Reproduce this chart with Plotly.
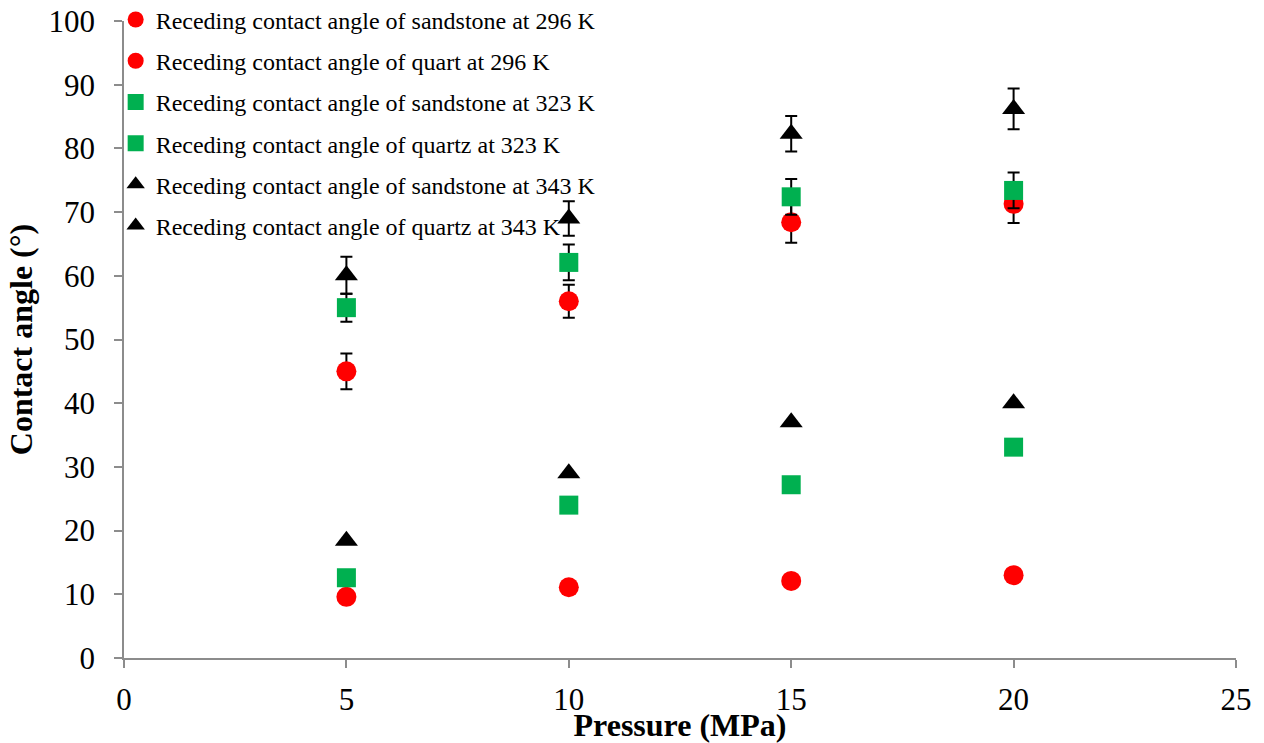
import plotly.graph_objects as go

pressure = [5, 10, 15, 20]

names = [
    "Receding contact angle of sandstone at 296 K",
    "Receding contact angle of quart at 296 K",
    "Receding contact angle of sandstone at 323 K",
    "Receding contact angle of quartz at 323 K",
    "Receding contact angle of sandstone at 343 K",
    "Receding contact angle of quartz at 343 K",
]

sandstone_296 = [45.0, 56.0, 68.4, 71.3]
sandstone_296_err = [2.8, 2.6, 3.2, 3.0]
quartz_296 = [9.6, 11.1, 12.1, 13.0]

sandstone_323 = [55.0, 62.1, 72.4, 73.4]
sandstone_323_err = [2.2, 2.8, 2.8, 2.8]
quartz_323 = [12.6, 24.0, 27.2, 33.1]

sandstone_343 = [60.1, 69.0, 82.3, 86.2]
sandstone_343_err = [2.9, 2.7, 2.8, 3.2]
quartz_343 = [18.4, 29.0, 37.0, 40.0]

RED = "#FF0000"
GREEN = "#00B050"
BLACK = "#000000"
FONT = "Liberation Serif, Times New Roman, serif"

series = [
    (names[0], sandstone_296, sandstone_296_err, "circle", RED, 20),
    (names[1], quartz_296, None, "circle", RED, 20),
    (names[2], sandstone_323, sandstone_323_err, "square", GREEN, 19),
    (names[3], quartz_323, None, "square", GREEN, 19),
    (names[4], sandstone_343, sandstone_343_err, "triangle-up", BLACK, 20),
    (names[5], quartz_343, None, "triangle-up", BLACK, 20),
]

fig = go.Figure()
for i, (nm, ys, err, sym, col, sz) in enumerate(series):
    kw = {}
    if err is not None:
        kw["error_y"] = dict(type="data", array=err, visible=True,
                             color=BLACK, thickness=2, width=6)
    fig.add_trace(go.Scatter(
        x=pressure, y=ys, name=nm, mode="markers",
        legendgroup=f"g{i}",
        marker=dict(symbol=sym, color=col, size=sz, line=dict(width=0)),
        **kw,
    ))

axis_common = dict(
    showgrid=False, zeroline=False, showline=True,
    linecolor="#8c8c8c", linewidth=1.5,
    ticks="outside", tickcolor="#8c8c8c", ticklen=8, tickwidth=1.5,
    tickfont=dict(family=FONT, size=31, color="black"),
)

fig.update_layout(
    width=1264, height=743,
    margin=dict(l=124, r=28, t=21, b=85, autoexpand=False),
    paper_bgcolor="white", plot_bgcolor="white",
    font=dict(family=FONT, color="black"),
    showlegend=True,
    legend=dict(
        x=-0.0075, y=1.037, xanchor="left", yanchor="top",
        font=dict(family=FONT, size=24, color="black"),
        bgcolor="rgba(0,0,0,0)", tracegroupgap=7,
        itemsizing="trace",
    ),
    xaxis=dict(
        range=[0, 25], tickvals=[0, 5, 10, 15, 20, 25],
        ticklabelstandoff=5,
        title=dict(text="<b>Pressure (MPa)</b>", font=dict(family=FONT, size=32), standoff=0),
        **axis_common,
    ),
    yaxis=dict(
        range=[0, 100], tickvals=list(range(0, 101, 10)),
        ticklabelstandoff=13,
        title=dict(text="<b>Contact angle (°)</b>", font=dict(family=FONT, size=32), standoff=6),
        **axis_common,
    ),
)

fig.write_html("out.html")
